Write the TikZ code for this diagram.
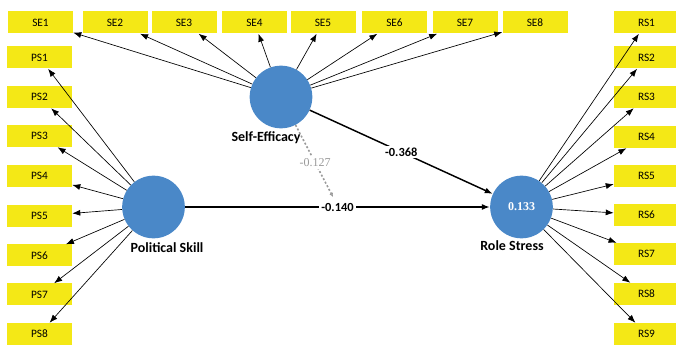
\documentclass[tikz,border=0pt]{standalone}
\usepackage{fontspec}
\setmainfont{Carlito}
\newfontfamily\numfont{Liberation Serif}
\usetikzlibrary{arrows.meta}
\definecolor{indyellow}{HTML}{F4E816}
\definecolor{lvblue}{HTML}{4A88C8}
\definecolor{modgray}{HTML}{9A9A9A}
\begin{document}
\begin{tikzpicture}[x=0.75pt, y=-0.75pt, >={Latex[length=6pt,width=4.5pt]}, font=\fontsize{8.5}{10}\selectfont,
		ind/.style={fill=indyellow, minimum width=48.75pt, minimum height=16.5pt, inner sep=0pt},
		lv/.style={circle, fill=lvblue, minimum size=47pt, inner sep=0pt},
		load/.style={->, line width=0.5pt},
		coef/.style={->, line width=1.1pt},
		lab/.style={font=\fontsize{10.5}{12}\selectfont\bfseries},
		coeflab/.style={fill=white, inner sep=1.5pt, font=\fontsize{9.3}{11}\selectfont\bfseries}]
		\useasboundingbox (0,0) rectangle (676,345);
		% latent variables
		\node[lv] (se) at (281,97) {};
		\node[lv] (ps) at (153.5,207) {};
		\node[lv, text=white, font=\numfont\bfseries\small] (rs) at (521.5,207) {0.133};
		\node[lab] (selab) at (266,138) {Self-Efficacy};
		\node[lab] (pslab) at (167,248) {Political Skill};
		\node[lab] (rslab) at (512,246) {Role Stress};
		% indicators
		\foreach \i/\x in {1/40.5, 2/115, 3/184, 4/254.5, 5/323, 6/394.5, 7/465, 8/535}
			\node[ind] (se\i) at (\x,22.5) {SE\i};
		\foreach \i/\y in {1/57.5, 2/97, 3/136, 4/176, 5/216, 6/255.5, 7/294.5, 8/334}
			\node[ind] (ps\i) at (39.5,\y) {PS\i};
		\foreach \i/\y in {1/22.5, 2/57.5, 3/97, 4/137, 5/176, 6/215, 7/254, 8/294, 9/334}
			\node[ind] (rs\i) at (646.5,\y) {RS\i};
		\foreach \i in {1,...,8} {
			\draw[load] (se) -- (se\i);
			\draw[load] (ps) -- (ps\i);
		}
		\foreach \i in {1,...,9}
			\draw[load] (rs) -- (rs\i);
		% paths
		\draw[coef] (se) -- (rs) node[pos=0.5, coeflab] (b1) {-0.368};
		\draw[coef] (ps) -- (rs) node[pos=0.5, coeflab] (b2) {-0.140};
		\coordinate (mod) at (333,197);
		\draw[-{Latex[open, length=3pt, width=3pt]}, modgray, line width=1.2pt, dash pattern=on 1.5pt off 1.5pt] (se) -- (mod)
			node[pos=0.52, fill=white, inner sep=1.5pt, text=modgray, font=\numfont\small] (b3) {-0.127};
\end{tikzpicture}
\end{document}
